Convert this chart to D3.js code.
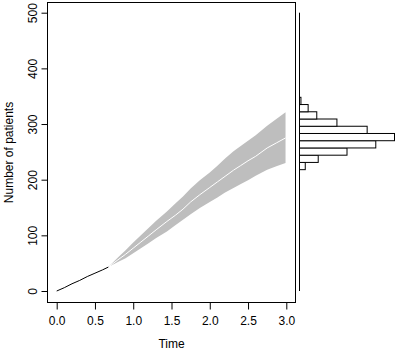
<!DOCTYPE html>
<html>
<head>
<meta charset="utf-8">
<script src="https://cdn.jsdelivr.net/npm/d3@7"></script>
<style>
  html, body { margin: 0; padding: 0; background: #fff; }
  svg { display: block; font-family: "Liberation Sans", Arial, sans-serif; }
</style>
</head>
<body>
<svg id="chart" width="396" height="351"></svg>
<script>
// ---- data ----
const obsTime   = [0, 0.1, 0.2, 0.3, 0.4, 0.5, 0.6, 0.675];
const obsCount  = [0, 6, 13, 19, 26, 32, 38, 43];

const predTime  = [0.675, 0.8, 0.9, 1.0, 1.1, 1.2, 1.3, 1.44, 1.55, 1.65, 1.75, 1.87, 2.0, 2.1, 2.2, 2.31, 2.4, 2.5, 2.6, 2.75, 2.87, 2.99];
const predLow   = [43, 52, 59, 68, 77, 86, 95, 107, 118, 128, 138, 149, 160, 168, 177, 185, 192, 199, 207, 218, 224, 230];
const predMed   = [43, 56, 66, 77, 88, 99, 110, 125, 136, 147, 160, 173, 186, 196, 206, 217, 225, 234, 242, 257, 266, 275];
const predHigh  = [43, 60, 73, 87, 100, 113, 126, 143, 157, 170, 184, 199, 213, 225, 238, 251, 260, 270, 280, 297, 309, 321];

const binLow    = [218, 231, 244, 257, 270, 283, 296, 309, 322, 335];
const binHigh   = [231, 244, 257, 270, 283, 296, 309, 322, 335, 348];
const binCount  = [4, 13, 33, 53, 66, 47, 26, 12, 6, 1];

const xTicks = [0, 0.5, 1, 1.5, 2, 2.5, 3];
const yTicks = [0, 100, 200, 300, 400, 500];

// ---- layout ----
const svg = d3.select("#chart");
const box = {left: 47.5, right: 295.5, top: 2.5, bottom: 302.5};
const x = d3.scaleLinear().domain([0, 3]).range([56.7, 286.3]);
const y = d3.scaleLinear().domain([0, 500]).range([291, 12.7]);
const hx = d3.scaleLinear().domain([0, 66]).range([299.5, 394.5]);

// band
const band = predTime.map((t, i) => ({t, lo: predLow[i], md: predMed[i], hi: predHigh[i]}));
svg.append("path")
  .datum(band)
  .attr("fill", "#bebebe")
  .attr("d", d3.area().x(d => x(d.t)).y0(d => y(d.lo)).y1(d => y(d.hi)));
svg.append("path")
  .datum(band)
  .attr("fill", "none").attr("stroke", "#fff").attr("stroke-width", 1)
  .attr("d", d3.line().x(d => x(d.t)).y(d => y(d.md)));

// observed
const obs = obsTime.map((t, i) => ({t, v: obsCount[i]}));
svg.append("path")
  .datum(obs)
  .attr("fill", "none").attr("stroke", "#000").attr("stroke-width", 1)
  .attr("d", d3.line().x(d => x(d.t)).y(d => y(d.v)));

// box
svg.append("rect")
  .attr("x", box.left).attr("y", box.top)
  .attr("width", box.right - box.left).attr("height", box.bottom - box.top)
  .attr("fill", "none").attr("stroke", "#000").attr("stroke-width", 1);

// x axis
const xAxis = svg.append("g").attr("transform", `translate(0,${box.bottom})`)
  .call(d3.axisBottom(x).tickValues(xTicks).tickFormat(d3.format(".1f")).tickSize(7).tickPadding(7));
xAxis.select(".domain").remove();
xAxis.selectAll("text").attr("font-size", 12).attr("fill", "#000")
  .attr("font-family", "Liberation Sans, Arial, sans-serif");
xAxis.selectAll("line").attr("stroke", "#000");

// y axis
const yAxis = svg.append("g").attr("transform", `translate(${box.left},0)`)
  .call(d3.axisLeft(y).tickValues(yTicks).tickSize(6).tickFormat(d3.format("d")));
yAxis.select(".domain").remove();
yAxis.selectAll("line").attr("stroke", "#000");
yAxis.selectAll("text")
  .attr("font-size", 12).attr("fill", "#000")
  .attr("font-family", "Liberation Sans, Arial, sans-serif")
  .attr("text-anchor", "middle")
  .attr("dy", 0)
  .attr("x", 0)
  .attr("transform", "translate(-11,0) rotate(-90)");

// axis titles
svg.append("text")
  .attr("x", (box.left + box.right) / 2).attr("y", 348)
  .attr("text-anchor", "middle").attr("font-size", 12).attr("fill", "#000")
  .text("Time");
svg.append("text")
  .attr("transform", `translate(12.5,${(box.top + box.bottom) / 2}) rotate(-90)`)
  .attr("text-anchor", "middle").attr("font-size", 12).attr("fill", "#000")
  .text("Number of patients");

// histogram
svg.append("g").selectAll("rect")
  .data(binCount.map((c, i) => ({c, lo: binLow[i], hi: binHigh[i]})))
  .join("rect")
  .attr("x", hx(0))
  .attr("y", d => y(d.hi))
  .attr("width", d => hx(d.c) - hx(0))
  .attr("height", d => y(d.lo) - y(d.hi))
  .attr("fill", "#fff").attr("stroke", "#000").attr("stroke-width", 1);
svg.append("line")
  .attr("x1", hx(0)).attr("x2", hx(0))
  .attr("y1", y(0)).attr("y2", y(500))
  .attr("stroke", "#000").attr("stroke-width", 1);
</script>
</body>
</html>
